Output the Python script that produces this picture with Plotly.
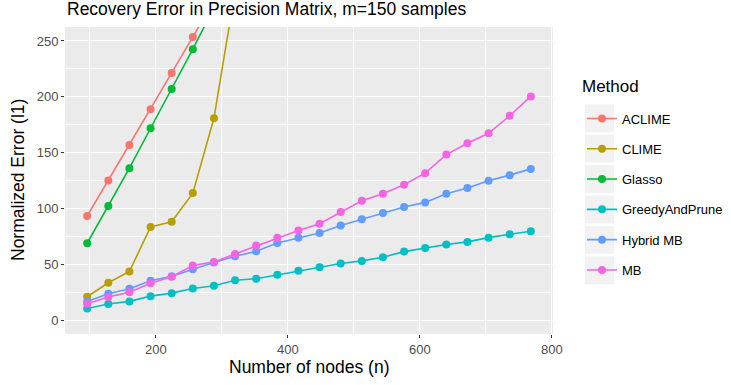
import plotly.graph_objects as go

nodes = [96, 128, 160, 192, 224, 256, 288, 320, 352, 384, 416, 448, 480, 512, 544, 576, 608, 640, 672, 704, 736, 768]

# values above 250 are off-chart (clipped); estimated continuation only for line direction
aclime = [93.2, 125.0, 156.9, 188.8, 221.4, 253.6, 285.0, 318.0, 350.0, 383.0, 415.0, 448.0,
          480.0, 513.0, 545.0, 578.0, 610.0, 643.0, 675.0, 708.0, 740.0, 773.0]
clime = [20.9, 33.4, 43.5, 83.4, 88.1, 113.7, 180.7, 282.0, 380.0, 480.0, 580.0, 690.0,
         800.0, 910.0, 1030.0, 1150.0, 1280.0, 1410.0, 1550.0, 1690.0, 1840.0, 2000.0]
glasso = [68.8, 102.1, 136.0, 171.8, 206.9, 242.6, 280.0, 317.0, 355.0, 393.0, 431.0, 470.0,
          508.0, 547.0, 586.0, 625.0, 664.0, 703.0, 742.0, 781.0, 820.0, 860.0]
greedy = [10.4, 14.3, 16.7, 21.4, 24.1, 28.3, 30.7, 35.7, 37.0, 40.5, 44.1, 47.3,
          50.6, 53.0, 56.3, 61.3, 64.6, 67.6, 70.0, 73.8, 76.8, 79.5]
hybrid = [16.7, 23.5, 28.0, 35.2, 39.3, 45.5, 51.5, 57.1, 61.6, 69.1, 73.8, 78.0,
          84.6, 90.2, 95.9, 101.2, 105.4, 113.1, 118.2, 124.7, 129.8, 135.4]
mb = [14.6, 20.6, 25.0, 33.0, 38.8, 48.8, 52.1, 59.2, 66.7, 73.8, 80.3, 86.3,
      96.8, 106.9, 113.1, 121.2, 131.6, 148.2, 158.4, 167.3, 183.0, 200.3]

methods = ["ACLIME", "CLIME", "Glasso", "GreedyAndPrune", "Hybrid MB", "MB"]
series = [aclime, clime, glasso, greedy, hybrid, mb]
colors = ["#F8766D", "#B79F00", "#00BA38", "#00BFC4", "#619CFF", "#F564E3"]

x_ticks = [200, 400, 600, 800]
y_ticks = [0, 50, 100, 150, 200, 250]

FONT = "Liberation Sans, Arial, Helvetica, sans-serif"

fig = go.Figure()
for name, vals, col in zip(methods, series, colors):
    fig.add_trace(go.Scatter(
        x=nodes, y=vals, name=name, mode="lines+markers",
        line=dict(color=col, width=1.6),
        marker=dict(color=col, size=8),
        cliponaxis=True, legendgroup=name,
    ))

W, H = 731, 385
L, R, T, B = 65, 178, 27, 51
pw, ph = W - L - R, H - T - B


def px_x(p):
    return (p - L) / pw


def px_y(p):
    return 1 - (p - T) / ph


# legend key background boxes
shapes = []
key_centers = [118.3, 148.7, 179.1, 209.5, 239.9, 270.3]
for kc in key_centers:
    shapes.append(dict(type="rect", xref="paper", yref="paper",
                       x0=px_x(585), x1=px_x(614), y0=px_y(kc + 14), y1=px_y(kc - 14),
                       fillcolor="#F2F2F2", line=dict(width=0), layer="below"))

annotations = [
    dict(text="Recovery Error in Precision Matrix, m=150 samples", xref="paper", yref="paper",
         x=px_x(65), y=px_y(9), xanchor="left", yanchor="middle", showarrow=False,
         font=dict(size=17.5, color="black")),
    dict(text="Number of nodes (n)", xref="paper", yref="paper",
         x=px_x(309), y=px_y(367), xanchor="center", yanchor="middle", showarrow=False,
         font=dict(size=17.5, color="black")),
    dict(text="Normalized Error (l1)", xref="paper", yref="paper", textangle=-90,
         x=px_x(17.5), y=px_y(180.5), xanchor="center", yanchor="middle", showarrow=False,
         font=dict(size=17.5, color="black")),
    dict(text="Method", xref="paper", yref="paper",
         x=px_x(580), y=px_y(86), xanchor="left", yanchor="middle", showarrow=False,
         font=dict(size=17, color="black")),
]

fig.update_layout(
    width=W, height=H,
    margin=dict(l=L, r=R, t=T, b=B, autoexpand=False),
    paper_bgcolor="white", plot_bgcolor="#EBEBEB",
    font=dict(family=FONT, color="black"),
    xaxis=dict(range=[62.4, 801.6], tickvals=x_ticks, ticktext=[str(v) for v in x_ticks],
               showgrid=True, gridcolor="white", gridwidth=1.4, zeroline=False, automargin=False,
               minor=dict(tickvals=[100, 300, 500, 700], showgrid=True, gridcolor="white", gridwidth=0.7, ticks=""),
               ticks="outside", ticklen=3, tickcolor="#333333", tickwidth=1,
               tickfont=dict(size=13, color="#4D4D4D"), showline=False),
    yaxis=dict(range=[-12.5, 262.5], tickvals=y_ticks, ticktext=[str(v) for v in y_ticks],
               showgrid=True, gridcolor="white", gridwidth=1.4, zeroline=False, automargin=False,
               minor=dict(tickvals=[25, 75, 125, 175, 225], showgrid=True, gridcolor="white", gridwidth=0.7, ticks=""),
               ticks="outside", ticklen=3, tickcolor="#333333", tickwidth=1,
               tickfont=dict(size=13, color="#4D4D4D"), showline=False),
    legend=dict(x=px_x(582), xanchor="left", y=px_y(103.5), yanchor="top",
                bgcolor="rgba(0,0,0,0)", traceorder="grouped",
                font=dict(size=13, color="black"), itemwidth=30, tracegroupgap=10.4),
    shapes=shapes,
    annotations=annotations,
    showlegend=True,
)

fig.write_html("out.html", config={"displayModeBar": False},
               post_script="document.body.style.margin='0';document.body.style.padding='0';")
